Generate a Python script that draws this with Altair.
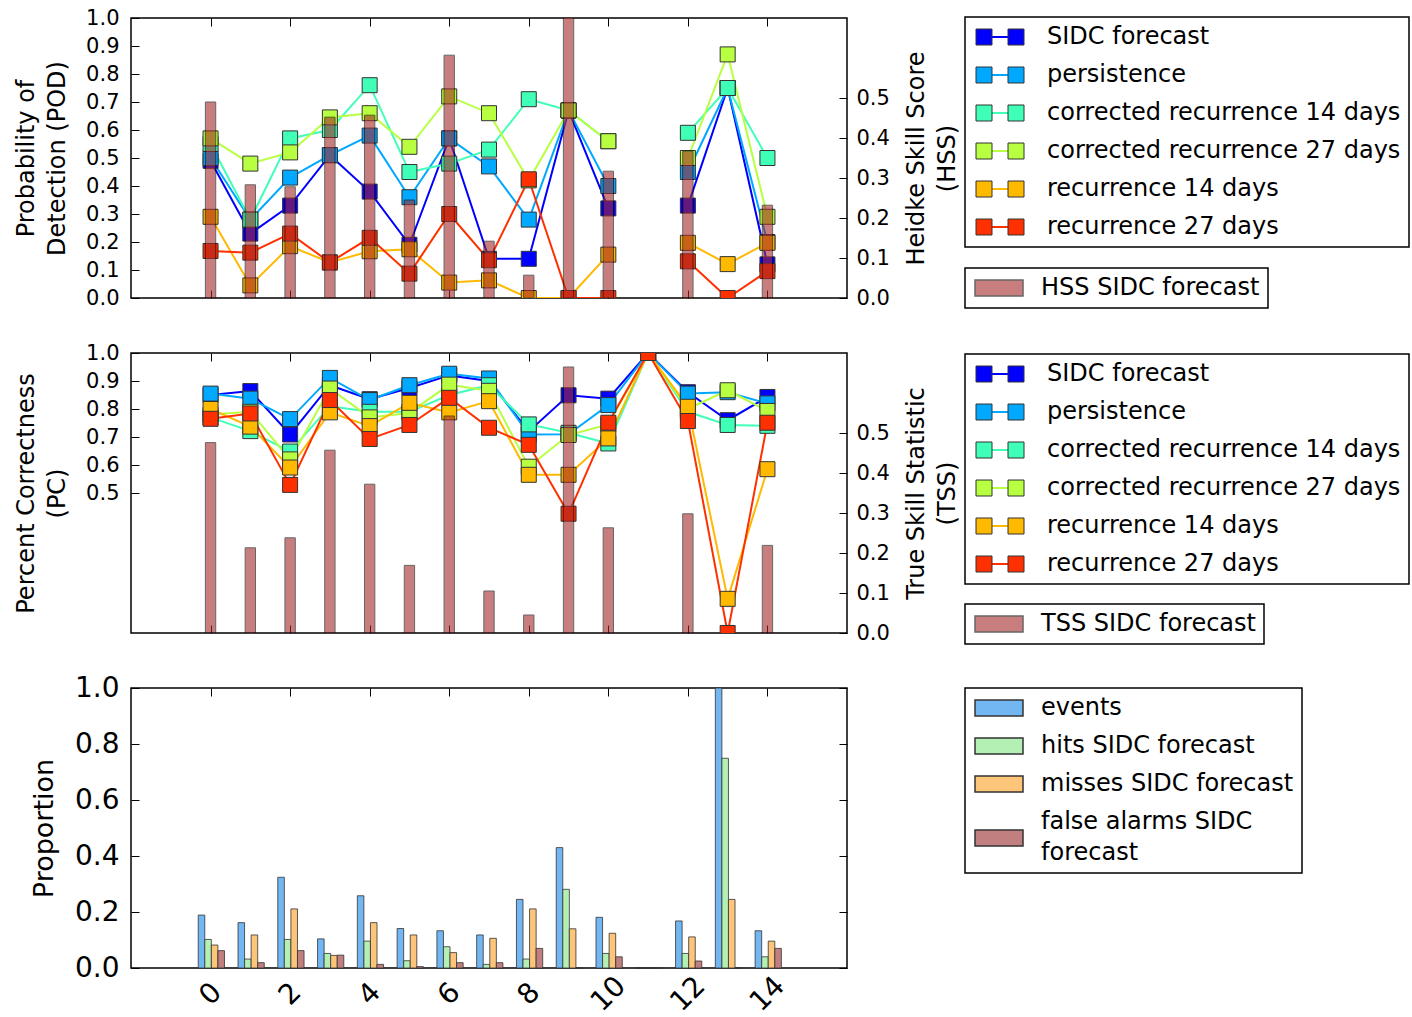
import altair as alt
import pandas as pd

FONT = "DejaVu Sans"

days = list(range(15))
day_ticks = [0, 2, 4, 6, 8, 10, 12, 14]

series_names = [
    "SIDC forecast",
    "persistence",
    "corrected recurrence 14 days",
    "corrected recurrence 27 days",
    "recurrence 14 days",
    "recurrence 27 days",
]
series_colors = ["#0000ff", "#00a8ff", "#40ffb7", "#b7ff40", "#ffb900", "#ff3000"]

# Probability of detection (None: no events on that day)
pod_sidc = [0.49, 0.23, 0.33, 0.51, 0.38, 0.19, 0.57, 0.14, 0.14, 0.67, 0.32, None, 0.33, 0.75, 0.12]
pod_persistence = [0.50, 0.28, 0.43, 0.51, 0.58, 0.36, 0.57, 0.47, 0.28, 0.67, 0.40, None, 0.45, 0.75, 0.20]
pod_corr14 = [0.55, 0.28, 0.57, 0.60, 0.76, 0.45, 0.48, 0.53, 0.71, 0.67, 0.56, None, 0.59, 0.75, 0.50]
pod_corr27 = [0.57, 0.48, 0.52, 0.645, 0.66, 0.54, 0.72, 0.66, 0.42, 0.67, 0.56, None, 0.50, 0.87, 0.29]
pod_rec14 = [0.29, 0.045, 0.185, 0.127, 0.167, 0.174, 0.055, 0.063, 0.0, 0.0, 0.155, None, 0.197, 0.121, 0.197]
pod_rec27 = [0.168, 0.162, 0.23, 0.127, 0.215, 0.087, 0.30, 0.135, 0.424, 0.0, 0.0, None, 0.131, 0.0, 0.096]
hss_sidc = [0.49, 0.283, 0.278, 0.452, 0.457, 0.245, 0.607, 0.142, 0.057, 0.80, 0.317, None, 0.367, None, 0.232]

# Percent correctness
pc_sidc = [0.85, 0.864, 0.709, 0.885, 0.835, 0.875, 0.92, 0.90, 0.72, 0.849, 0.837, 1.0, 0.86, 0.76, 0.843]
pc_persistence = [0.855, 0.837, 0.764, 0.911, 0.832, 0.885, 0.926, 0.909, 0.709, 0.71, 0.814, 1.0, 0.855, 0.86, 0.82]
pc_corr14 = [0.77, 0.721, 0.648, 0.81, 0.79, 0.79, 0.85, 0.885, 0.745, 0.715, 0.677, 1.0, 0.79, 0.743, 0.74]
pc_corr27 = [0.78, 0.79, 0.62, 0.873, 0.77, 0.786, 0.887, 0.865, 0.594, 0.707, 0.745, 1.0, 0.80, 0.867, 0.793]
pc_rec14 = [0.80, 0.737, 0.591, 0.788, 0.739, 0.822, 0.788, 0.828, 0.565, 0.565, 0.695, 1.0, 0.808, 0.122, 0.585]
pc_rec27 = [0.765, 0.784, 0.529, 0.832, 0.693, 0.743, 0.84, 0.733, 0.672, 0.426, 0.751, 1.0, 0.757, 0.0, 0.751]
tss_sidc = [0.476, 0.213, 0.238, 0.457, 0.372, 0.169, 0.5425, 0.105, 0.045, 0.665, 0.263, None, 0.298, None, 0.219]

# Proportions of events and SIDC forecast outcomes
proportion_names = ["events", "hits SIDC forecast", "misses SIDC forecast", "false alarms SIDC forecast"]
proportion_colors = ["#72b6f2", "#b4efb4", "#fcc57a", "#c17f7f"]
events = [0.189, 0.162, 0.324, 0.104, 0.258, 0.141, 0.133, 0.118, 0.245, 0.43, 0.181, 0.0, 0.168, 1.0, 0.133]
hits = [0.102, 0.032, 0.102, 0.052, 0.096, 0.026, 0.076, 0.013, 0.032, 0.281, 0.052, 0.0, 0.052, 0.749, 0.04]
misses = [0.082, 0.118, 0.211, 0.045, 0.162, 0.118, 0.055, 0.106, 0.211, 0.14, 0.124, 0.0, 0.111, 0.245, 0.096]
false_alarms = [0.062, 0.019, 0.062, 0.046, 0.013, 0.005, 0.019, 0.019, 0.07, 0.0, 0.04, 0.0, 0.025, 0.0, 0.07]

W, H = 716, 280
X_SCALE = alt.Scale(domain=[-2, 16], nice=False, zero=False)


def method_frame(columns):
    rows = []
    for name, values in zip(series_names, columns):
        for day, value in zip(days, values):
            rows.append({"day": day, "series": name, "value": value})
    return pd.DataFrame(rows)


def skill_frame(values, label):
    return pd.DataFrame({"day": days, "value": values, "label": label})


def proportion_frame():
    rows = []
    for k, (name, values) in enumerate(zip(proportion_names, [events, hits, misses, false_alarms])):
        for day, value in zip(days, values):
            rows.append({"day": day, "kind": name, "k": k, "value": value})
    return pd.DataFrame(rows)


def x_axis(orient, labels=False):
    kw = dict(orient=orient, values=day_ticks, title=None, domain=False, grid=False,
              tickSize=8, offset=-8, tickColor="black", tickWidth=1, labels=labels)
    if labels:
        kw.update(format="d", labelAngle=315, labelAlign="center", labelBaseline="middle",
                  labelPadding=26, labelFontSize=28, labelFlush=False)
    return alt.Axis(**kw)


def y_axis(orient, values, title=None, title_x=0, labels=True, font_size=21, title_size=24):
    kw = dict(orient=orient, values=values, format=".1f", domain=False, grid=False,
              tickSize=8, offset=-8, tickColor="black", labels=labels,
              labelFontSize=font_size, labelPadding=12 if orient == "left" else 9,
              labelOverlap=False)
    if title is None:
        kw["title"] = None
    else:
        kw.update(title=title, titleFontSize=title_size, titleAngle=270, titleBaseline="top",
                  titleAlign="center", titleX=title_x, titleY=H / 2, titleLineHeight=31)
    return alt.Axis(**kw)


def square_legend(y):
    return alt.Legend(title=None, orient="none", legendX=834, legendY=y, direction="vertical",
                      symbolType="M-1,-1H1V1H-1ZM3,-1H5V1H3Z", symbolSize=256,
                      symbolStrokeColor="#333333", symbolStrokeWidth=1,
                      symbolOffset=-1, labelOffset=51, padding=8, rowPadding=14,
                      strokeColor="black", labelLimit=0)


def line_legend(y):
    return alt.Legend(title=None, orient="none", legendX=834, legendY=y, direction="vertical",
                      symbolType="M1,0H3", symbolSize=256, symbolStrokeWidth=2,
                      symbolOffset=-1, labelOffset=51, padding=8, rowPadding=14,
                      strokeColor="transparent", labelColor="transparent", labelLimit=0)


def bar_legend(y, label_expr=None, baseline_expr=None):
    kw = dict(title=None, orient="none", legendX=834, legendY=y, direction="vertical",
              symbolType="M-1,-1H5V1H-1Z", symbolSize=256,
              symbolOffset=-2, labelOffset=46, padding=8, rowPadding=14,
              strokeColor="black", labelLimit=0)
    if label_expr:
        kw["labelExpr"] = label_expr
    if baseline_expr:
        kw["labelBaseline"] = {"expr": baseline_expr}
    return alt.Legend(**kw)


def method_panel(columns, left_values, left_title, skill_values, skill_label, right_title,
                 legend_y, skill_legend_y, split_gap):
    df = method_frame(columns)
    base = alt.Chart(df).transform_filter("isValid(datum.value)")
    if split_gap:
        base = base.transform_calculate(seg="datum.day > 11 ? 1 : 0")
    else:
        base = base.transform_calculate(seg="0")
    y_scale = alt.Scale(domain=[0, 1], nice=False, zero=True)

    lines = base.mark_line(strokeWidth=2, clip=True).encode(
        x=alt.X("day:Q", scale=X_SCALE, axis=x_axis("bottom")),
        y=alt.Y("value:Q", scale=y_scale, axis=y_axis("left", left_values, left_title, -125)),
        stroke=alt.Stroke("series:N", scale=alt.Scale(domain=series_names, range=series_colors),
                          legend=line_legend(legend_y)),
        detail="seg:N",
        order="day:Q",
    )
    points = base.transform_calculate(marker="datum.series").mark_point(
        shape="square", filled=True, size=225, opacity=1,
        stroke="#333333", strokeWidth=1, clip=True
    ).encode(
        x=alt.X("day:Q", scale=X_SCALE, axis=None),
        y=alt.Y("value:Q", scale=y_scale, axis=None),
        fill=alt.Fill("marker:N", sort=series_names, scale=alt.Scale(range=series_colors),
                      legend=square_legend(legend_y)),
    )
    bars = alt.Chart(skill_frame(skill_values, skill_label)).transform_filter(
        "isValid(datum.value)"
    ).transform_calculate(
        x0="datum.day - 0.13", x1="datum.day + 0.13"
    ).mark_bar(opacity=0.6, stroke="black", strokeWidth=1, clip=True).encode(
        x=alt.X("x0:Q", scale=X_SCALE, axis=x_axis("top")),
        x2="x1:Q",
        y=alt.Y("value:Q", scale=alt.Scale(domain=[0, 0.7], nice=False, zero=True), stack=None,
                axis=y_axis("right", [0, 0.1, 0.2, 0.3, 0.4, 0.5], right_title, 65)),
        y2=alt.datum(0),
        color=alt.Color("label:N", scale=alt.Scale(domain=[skill_label], range=["#a52a2a"]),
                        legend=bar_legend(skill_legend_y)),
    )
    return alt.layer(lines, points, bars).resolve_scale(y="independent").properties(width=W, height=H)


top = method_panel(
    [pod_sidc, pod_persistence, pod_corr14, pod_corr27, pod_rec14, pod_rec27],
    [round(0.1 * i, 1) for i in range(11)],
    ["Probability of", "Detection (POD)"],
    hss_sidc, "HSS SIDC forecast", ["Heidke Skill Score", "(HSS)"],
    -1, 250, True,
)

middle = method_panel(
    [pc_sidc, pc_persistence, pc_corr14, pc_corr27, pc_rec14, pc_rec27],
    [0.5, 0.6, 0.7, 0.8, 0.9, 1.0],
    ["Percent Correctness", "(PC)"],
    tss_sidc, "TSS SIDC forecast", ["True Skill Statistic", "(TSS)"],
    1, 251, False,
)

prop_base = alt.Chart(proportion_frame()).transform_calculate(
    x0="datum.day - 0.31 + datum.k * 0.165", x1="datum.day - 0.31 + (datum.k + 1) * 0.165"
)
prop_scale = alt.Scale(domain=[0, 1], nice=False, zero=True)
prop_color = alt.Scale(domain=proportion_names, range=proportion_colors)
prop_y_ticks = [0.0, 0.2, 0.4, 0.6, 0.8, 1.0]
wrap_label = ("datum.label == 'false alarms SIDC forecast' ? "
              "['false alarms SIDC', 'forecast'] : datum.label")
wrap_baseline = "datum.value == 'false alarms SIDC forecast' ? 'line-bottom' : 'middle'"

bars_front = prop_base.transform_filter("datum.k < 2").mark_bar(
    stroke="#333333", strokeWidth=1, strokeOpacity=0.8
).encode(
    x=alt.X("x0:Q", scale=X_SCALE, axis=x_axis("bottom", labels=True)),
    x2="x1:Q",
    y=alt.Y("value:Q", scale=prop_scale, stack=None,
            axis=y_axis("left", prop_y_ticks, "Proportion", -108, font_size=28, title_size=27)),
    y2=alt.datum(0),
    color=alt.Color("kind:N", scale=prop_color,
                    legend=bar_legend(0, wrap_label, wrap_baseline)),
)
bars_back = prop_base.transform_filter("datum.k >= 2").mark_bar(
    stroke="#333333", strokeWidth=1, strokeOpacity=0.8
).encode(
    x=alt.X("x0:Q", scale=X_SCALE, axis=x_axis("top")),
    x2="x1:Q",
    y=alt.Y("value:Q", scale=prop_scale, stack=None,
            axis=y_axis("right", prop_y_ticks, None, labels=False)),
    y2=alt.datum(0),
    color=alt.Color("kind:N", scale=prop_color, legend=None),
)
bottom = alt.layer(bars_front, bars_back).properties(width=W, height=H)

chart = alt.vconcat(top, middle, bottom, spacing=55, bounds="flush").resolve_scale(
    x="independent", y="independent", color="independent", fill="independent", stroke="independent"
).resolve_legend(
    color="independent", fill="independent", stroke="independent"
).properties(
    padding={"left": 13, "top": 6, "right": 0, "bottom": 0}
).configure(
    style={"guide-label": alt.MarkConfig(lineHeight=31)}
).configure_view(
    stroke="black", strokeWidth=1.5
).configure_axis(
    labelFont=FONT, titleFont=FONT, labelColor="black", titleColor="black",
    titleFontWeight="normal", labelFontWeight="normal"
).configure_legend(
    labelFont=FONT, labelFontSize=24, labelColor="black", strokeWidth=1.5, cornerRadius=0
)

chart.save("out.html", embed_options={"renderer": "svg", "actions": False})
